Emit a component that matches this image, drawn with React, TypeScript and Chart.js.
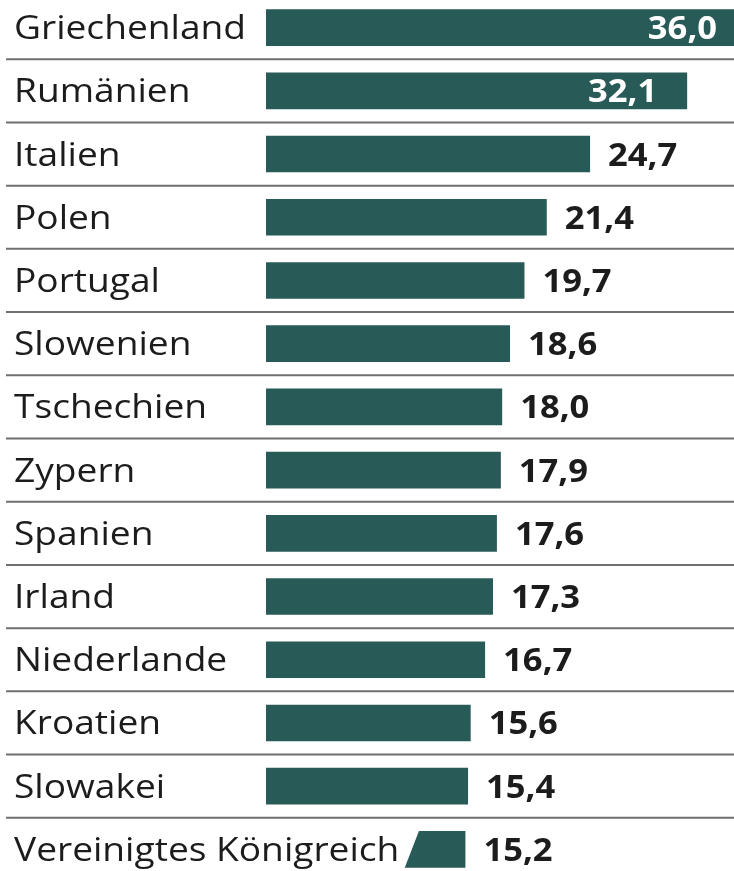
import React, { useEffect, useRef } from "react";
import { Chart, registerables } from "chart.js";

Chart.register(...registerables);

const categories = [
  "Griechenland",
  "Rumänien",
  "Italien",
  "Polen",
  "Portugal",
  "Slowenien",
  "Tschechien",
  "Zypern",
  "Spanien",
  "Irland",
  "Niederlande",
  "Kroatien",
  "Slowakei",
  "Vereinigtes Königreich",
];

const values = [36.0, 32.1, 24.7, 21.4, 19.7, 18.6, 18.0, 17.9, 17.6, 17.3, 16.7, 15.6, 15.4, 15.2];

const valueLabels = values.map((v) => v.toFixed(1).replace(".", ","));

const BAR_COLOR = "#285b57";
const TEXT_COLOR = "#1c1c1c";
const LABEL_FONT = '32px "Open Sans"';
const LABEL_STRETCH = 1.16;
const VALUE_FONT = 'bold 32px "Open Sans"';
const VALUE_STRETCH = 1.08;

function drawStretched(ctx: any, text: string, x: number, y: number, sx: number, align: "left" | "right") {
  ctx.save();
  ctx.translate(x, y);
  ctx.scale(sx, 1);
  ctx.textAlign = align;
  ctx.textBaseline = "alphabetic";
  ctx.fillText(text, 0, 0);
  ctx.restore();
}

const overlayPlugin = {
  id: "overlay",
  beforeDatasetsDraw(chart: any) {
    const { ctx, scales } = chart;
    const y = scales.y;
    const n = categories.length;
    ctx.save();
    ctx.strokeStyle = "#6f6f6f";
    ctx.lineWidth = 2;
    for (let i = 0; i < n - 1; i++) {
      const yy = (y.getPixelForValue(i) + y.getPixelForValue(i + 1)) / 2;
      ctx.beginPath();
      ctx.moveTo(6, yy);
      ctx.lineTo(chart.width, yy);
      ctx.stroke();
    }
    ctx.restore();
  },
  afterDatasetsDraw(chart: any) {
    const { ctx, chartArea } = chart;
    const meta = chart.getDatasetMeta(0);
    ctx.save();
    meta.data.forEach((bar: any, i: number) => {
      const cy = bar.y;
      const half = bar.height / 2;
      const baseline = cy + 11.5;
      // category label
      ctx.font = LABEL_FONT;
      const w = ctx.measureText(categories[i]).width * LABEL_STRETCH;
      const textEnd = 14 + w;
      if (textEnd + 10 > chartArea.left) {
        ctx.fillStyle = "#ffffff";
        ctx.beginPath();
        ctx.moveTo(0, cy - half - 1);
        ctx.lineTo(textEnd + 20, cy - half - 1);
        ctx.lineTo(textEnd + 5, cy + half + 1);
        ctx.lineTo(0, cy + half + 1);
        ctx.closePath();
        ctx.fill();
      }
      ctx.fillStyle = TEXT_COLOR;
      drawStretched(ctx, categories[i], 14, baseline, LABEL_STRETCH, "left");

      // value label
      ctx.font = VALUE_FONT;
      const end = bar.x;
      if (values[i] > 30) {
        ctx.fillStyle = "#ffffff";
        const right = end > chartArea.right ? chartArea.right - 17 : end - 30;
        drawStretched(ctx, valueLabels[i], right, baseline, VALUE_STRETCH, "right");
      } else {
        ctx.fillStyle = TEXT_COLOR;
        drawStretched(ctx, valueLabels[i], end + 18, baseline, VALUE_STRETCH, "left");
      }
    });
    ctx.restore();
  },
};

export default function App() {
  const canvasRef = useRef<HTMLCanvasElement | null>(null);

  useEffect(() => {
    document.body.style.margin = "0";
    const canvas = canvasRef.current;
    if (!canvas) return;
    const chart = new Chart(canvas, {
      type: "bar",
      data: {
        labels: categories,
        datasets: [
          {
            data: values,
            backgroundColor: BAR_COLOR,
            borderWidth: 0,
            barPercentage: 0.58,
            categoryPercentage: 1,
          },
        ],
      },
      options: {
        indexAxis: "y",
        animation: false,
        responsive: true,
        maintainAspectRatio: false,
        layout: { padding: { left: 266, right: 0, top: 0, bottom: 0 } },
        plugins: {
          legend: { display: false },
          tooltip: { enabled: false },
          title: { display: false },
        },
        scales: {
          x: { display: false, min: 0, max: 35.67, grid: { display: false } },
          y: { display: false, grid: { display: false } },
        },
      },
      plugins: [overlayPlugin],
    });
    return () => chart.destroy();
  }, []);

  return (
    <div style={{ width: 734, height: 871, overflow: "hidden", position: "relative", background: "#fff" }}>
      <div style={{ position: "absolute", left: 0, top: -4, width: 734, height: 885 }}>
        <canvas ref={canvasRef} />
      </div>
    </div>
  );
}
